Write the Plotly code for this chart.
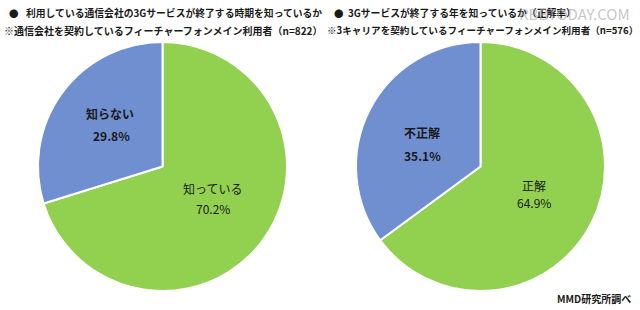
import plotly.graph_objects as go

left_labels = ["知っている", "知らない"]
left_values = [70.2, 29.8]
right_labels = ["正解", "不正解"]
right_values = [64.9, 35.1]
colors = ["#92D050", "#6F8FD0"]

W, H = 640, 310
FONT = "Noto Sans CJK JP"

def px(x):
    return x / W

def py(y):
    return 1 - y / H

fig = go.Figure()
fig.add_trace(go.Pie(
    labels=left_labels, values=left_values, sort=False, direction="clockwise",
    rotation=0, marker=dict(colors=colors, line=dict(color="white", width=2)),
    textinfo="none", hoverinfo="label+percent", showlegend=False,
    domain=dict(x=[px(38), px(287)], y=[py(291), py(42)]),
))
fig.add_trace(go.Pie(
    labels=right_labels, values=right_values, sort=False, direction="clockwise",
    rotation=0, marker=dict(colors=colors, line=dict(color="white", width=2)),
    textinfo="none", hoverinfo="label+percent", showlegend=False,
    domain=dict(x=[px(356), px(605)], y=[py(291), py(42)]),
))

def ann(text, x, y, size=12, bold=False, anchor="center", color="#1a1a1a"):
    t = f"<b>{text}</b>" if bold else text
    fig.add_annotation(text=t, x=px(x), y=py(y), xref="paper", yref="paper",
                       xanchor=anchor, yanchor="middle", showarrow=False,
                       font=dict(family=FONT, size=size, color=color))

# slice labels
ann(left_labels[1], 110, 113, bold=True)
ann(f"{left_values[1]:.1f}%", 111, 135, bold=True)
ann(left_labels[0], 212, 188)
ann(f"{left_values[0]:.1f}%", 213, 208)
ann(right_labels[1], 422, 133, bold=True)
ann(f"{right_values[1]:.1f}%", 422, 155, bold=True)
ann(right_labels[0], 534, 185)
ann(f"{right_values[0]:.1f}%", 534, 203)

# titles
ann("●", 7, 13, size=9.5, bold=True, anchor="left")
ann("利用している通信会社の3Gサービスが終了する時期を知っているか", 24, 13, size=9.8, bold=True, anchor="left")
ann("※通信会社を契約しているフィーチャーフォンメイン利用者（n=822）", 2, 30, size=10, bold=True, anchor="left")
ann("●", 332, 13, size=9.5, bold=True, anchor="left")
ann("3Gサービスが終了する年を知っているか（正解率）", 346, 13, size=9.8, bold=True, anchor="left")
ann("※3キャリアを契約しているフィーチャーフォンメイン利用者（n=576）", 325, 30, size=9.6, bold=True, anchor="left")
ann("RBBTODAY.COM", 632, 13, size=15, anchor="right", color="rgba(160,160,160,0.6)")
ann("MMD研究所調べ", 633, 298, size=10, bold=True, anchor="right")

fig.update_layout(width=W, height=H, margin=dict(l=0, r=0, t=0, b=0),
                  paper_bgcolor="white", plot_bgcolor="white")
fig.write_html("out.html")
